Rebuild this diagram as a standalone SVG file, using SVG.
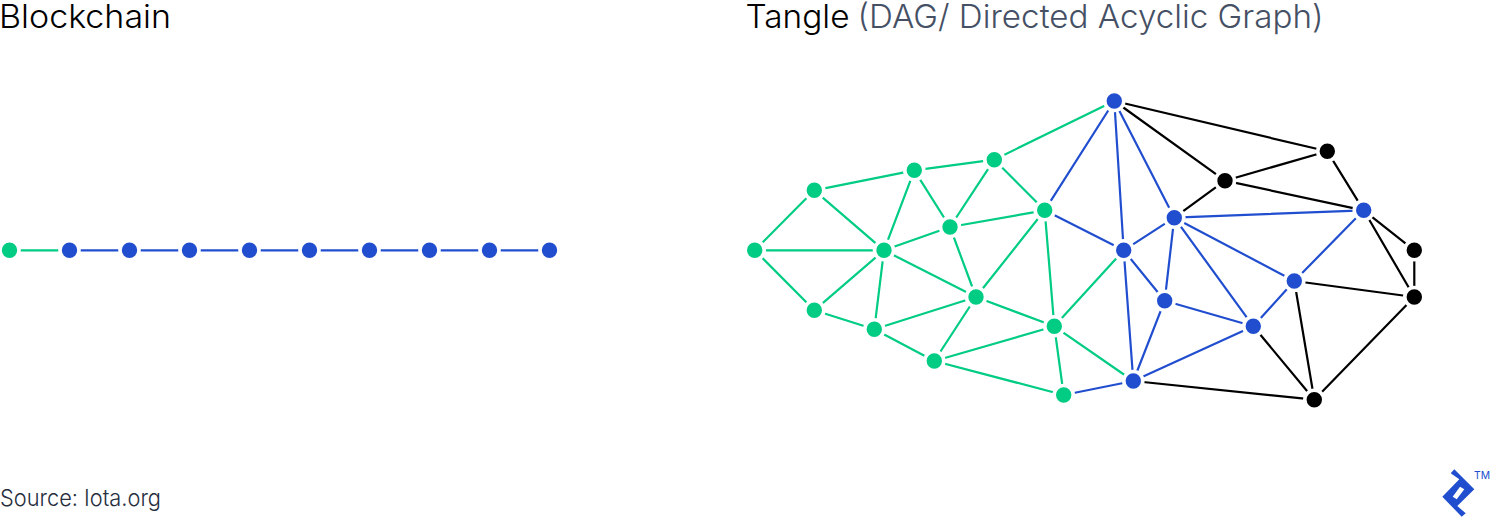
<svg xmlns="http://www.w3.org/2000/svg" width="1490" height="518" viewBox="0 0 1490 518">
<style>
text{font-family:"Inter","Lato","Liberation Sans",sans-serif;font-weight:400;fill:#000}
.t{font-size:32.5px;font-weight:350}
.s{fill:#455065;font-weight:300}
.e{stroke-width:2.2px;fill:none}
.eg{stroke:#00cc83}.eb{stroke:#204ecf}.ek{stroke:#000}
circle{r:9.5px;stroke:#fff;stroke-width:3.6px}
.g{fill:#00cc83}.b{fill:#204ecf}.k{fill:#000}
</style>
<rect width="1490" height="518" fill="#fff"/>
<text class="t" x="-1" y="28" textLength="172" lengthAdjust="spacingAndGlyphs">Blockchain</text>
<text class="t" x="745.5" y="28" textLength="104" lengthAdjust="spacingAndGlyphs">Tangle</text>
<text class="t s" x="857.5" y="28" textLength="466" lengthAdjust="spacingAndGlyphs">(DAG/ Directed Acyclic Graph)</text>
<text x="0" y="505.5" font-size="23" textLength="161" lengthAdjust="spacingAndGlyphs" style="fill:#262d3d;font-weight:300">Source: Iota.org</text>
<g id="connectors">
<path class="e eb" d="M69 250.3H549"/>
<path class="e eg" d="M9.5 250.3H69"/>
<path class="e eg" d="M754.7 250.3L814.3 190.3M754.7 250.3H884M754.7 250.3L814.3 310.3M814.3 190.3L914.3 170.3M814.3 190.3L884 250.3M814.3 310.3L884 250.3M814.3 310.3L874.3 329.3M914.3 170.3L994.3 159.7M914.3 170.3L884 250.3M914.3 170.3L950 227M994.3 159.7L950 227M994.3 159.7L1044.7 210.3M994.3 159.7L1114.3 101M884 250.3L950 227M884 250.3L976 297M884 250.3L874.3 329.3M950 227L1044.7 210.3M950 227L976 297M1044.7 210.3L976 297M1044.7 210.3L1054.3 326.3M976 297L874.3 329.3M976 297L934.3 361M976 297L1054.3 326.3M874.3 329.3L934.3 361M934.3 361L1054.3 326.3M934.3 361L1063.7 395M1054.3 326.3L1063.7 395M1054.3 326.3L1123.7 250.3M1054.3 326.3L1133.3 381"/>
<path class="e eb" d="M1044.7 210.3L1114.3 101M1044.7 210.3L1123.7 250.3M1063.7 395L1133.3 381M1114.3 101L1123.7 250.3M1114.3 101L1174.3 217.7M1123.7 250.3L1174.3 217.7M1123.7 250.3L1164.7 300.7M1123.7 250.3L1133.3 381M1174.3 217.7L1164.7 300.7M1174.3 217.7L1363.7 210.3M1174.3 217.7L1253.3 326.3M1174.3 217.7L1294.3 281M1164.7 300.7L1253.3 326.3M1164.7 300.7L1133.3 381M1253.3 326.3L1133.3 381M1253.3 326.3L1294.3 281M1294.3 281L1363.7 210.3"/>
<path class="e ek" d="M1114.3 101L1327.3 151.3M1114.3 101L1225 180.7M1225 180.7L1327.3 151.3M1225 180.7L1174.3 217.7M1225 180.7L1363.7 210.3M1327.3 151.3L1363.7 210.3M1363.7 210.3L1414.3 250.3M1363.7 210.3L1414.3 297M1414.3 250.3V297M1294.3 281L1414.3 297M1294.3 281L1314.3 399.7M1253.3 326.3L1314.3 399.7M1133.3 381L1314.3 399.7M1414.3 297L1314.3 399.7"/>
</g>
<g id="chain-1"><circle class="g" cx="9.5" cy="250.3"/></g>
<g id="chain-2"><circle class="b" cx="69.5" cy="250.3"/></g>
<g id="chain-3"><circle class="b" cx="129.5" cy="250.3"/></g>
<g id="chain-4"><circle class="b" cx="189.5" cy="250.3"/></g>
<g id="chain-5"><circle class="b" cx="249.5" cy="250.3"/></g>
<g id="chain-6"><circle class="b" cx="309.5" cy="250.3"/></g>
<g id="chain-7"><circle class="b" cx="369.5" cy="250.3"/></g>
<g id="chain-8"><circle class="b" cx="429.5" cy="250.3"/></g>
<g id="chain-9"><circle class="b" cx="489.5" cy="250.3"/></g>
<g id="chain-10"><circle class="b" cx="549.5" cy="250.3"/></g>
<g id="n-a"><circle class="g" cx="754.7" cy="250.3"/></g>
<g id="n-b"><circle class="g" cx="814.3" cy="190.3"/></g>
<g id="n-c"><circle class="g" cx="814.3" cy="310.3"/></g>
<g id="n-d"><circle class="g" cx="914.3" cy="170.3"/></g>
<g id="n-e"><circle class="g" cx="994.3" cy="159.7"/></g>
<g id="n-f"><circle class="g" cx="884" cy="250.3"/></g>
<g id="n-g"><circle class="g" cx="950" cy="227"/></g>
<g id="n-h"><circle class="g" cx="1044.7" cy="210.3"/></g>
<g id="n-i"><circle class="g" cx="976" cy="297"/></g>
<g id="n-j"><circle class="g" cx="874.3" cy="329.3"/></g>
<g id="n-k"><circle class="g" cx="934.3" cy="361"/></g>
<g id="n-l"><circle class="g" cx="1054.3" cy="326.3"/></g>
<g id="n-m"><circle class="g" cx="1063.7" cy="395"/></g>
<g id="n-n"><circle class="b" cx="1114.3" cy="101"/></g>
<g id="n-o"><circle class="k" cx="1225" cy="180.7"/></g>
<g id="n-p"><circle class="k" cx="1327.3" cy="151.3"/></g>
<g id="n-q"><circle class="b" cx="1174.3" cy="217.7"/></g>
<g id="n-r"><circle class="b" cx="1363.7" cy="210.3"/></g>
<g id="n-s"><circle class="b" cx="1123.7" cy="250.3"/></g>
<g id="n-t"><circle class="k" cx="1414.3" cy="250.3"/></g>
<g id="n-u"><circle class="k" cx="1414.3" cy="297"/></g>
<g id="n-v"><circle class="b" cx="1294.3" cy="281"/></g>
<g id="n-w"><circle class="b" cx="1164.7" cy="300.7"/></g>
<g id="n-x"><circle class="b" cx="1253.3" cy="326.3"/></g>
<g id="n-y"><circle class="b" cx="1133.3" cy="381"/></g>
<g id="n-z"><circle class="k" cx="1314.3" cy="399.7"/></g>
<path fill="#204ecf" fill-rule="evenodd" d="M1450.7 473.3L1454.3 469.3L1474.3 489.3L1457.3 506L1465.7 513.3L1461.7 516.7L1442.3 496.7L1459.3 479.3ZM1460 486.7L1464.3 489.3L1456.7 499.3L1452.7 496.7Z"/>
<text x="1474" y="479" font-size="11" textLength="16" lengthAdjust="spacingAndGlyphs" style="fill:#204ecf">TM</text>
</svg>
